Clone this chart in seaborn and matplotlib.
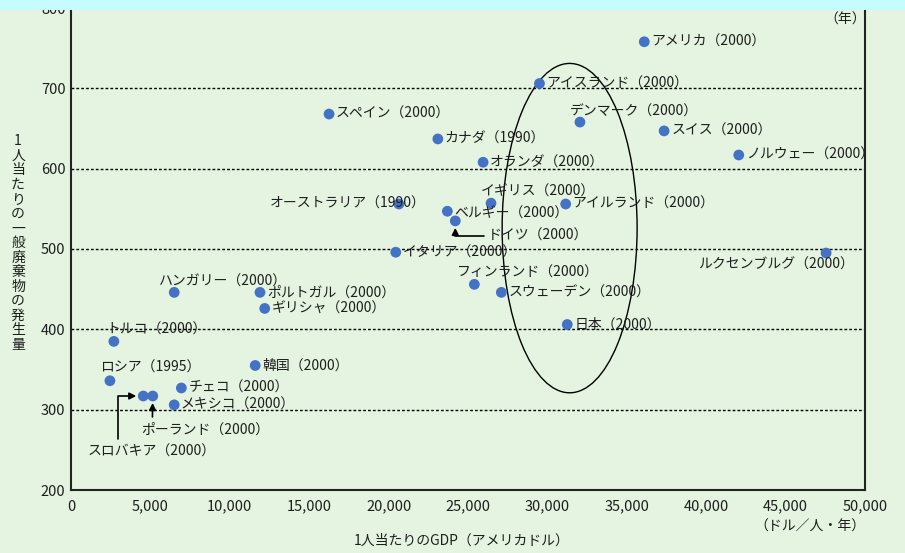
import numpy as np
import pandas as pd
import matplotlib.pyplot as plt
import seaborn as sns
from matplotlib.patches import Ellipse, Rectangle

# data: GDP per capita (USD) vs municipal waste per capita
countries = ['アメリカ', 'アイスランド', 'デンマーク', 'スイス', 'ノルウェー', 'スペイン',
             'カナダ', 'オランダ', 'イギリス', 'アイルランド', 'オーストラリア', 'ベルギー',
             'ドイツ', 'イタリア', 'フィンランド', 'スウェーデン', '日本', 'ルクセンブルグ',
             'ハンガリー', 'ポルトガル', 'ギリシャ', 'トルコ', '韓国', 'ロシア', 'チェコ',
             'メキシコ', 'スロバキア', 'ポーランド']
years = ['2000', '2000', '2000', '2000', '2000', '2000',
         '1990', '2000', '2000', '2000', '1990', '2000',
         '2000', '2000', '2000', '2000', '2000', '2000',
         '2000', '2000', '2000', '2000', '2000', '1995', '2000',
         '2000', '2000', '2000']
gdp = [36100, 29500, 32050, 37350, 42050, 16250,
       23100, 25950, 26450, 31150, 20650, 23700,
       24200, 20450, 25400, 27100, 31250, 47550,
       6500, 11900, 12200, 2700, 11600, 2450, 6950,
       6500, 4550, 5150]
waste = [758, 706, 658, 647, 617, 668,
         637, 608, 557, 556, 556, 547,
         535, 496, 456, 446, 406, 495,
         446, 446, 426, 385, 355, 336, 327,
         306, 317, 317]

# label offsets (pixels, left edge of text relative to the dot)
label_dx = [7, 7, -10, 7, 7, 7,
            7, 7, -10, 7, -129, 7,
            0, 7, -17, 7, 7, -128,
            -15, 7, 7, -7, 7, -10, 7,
            6, 0, 0]
label_dy = [0, 0, -10, 0, 0, 0,
            0, 0, -12, 0, 0, 2,
            0, 0, -12, 0, 0, 12,
            -11, 0, 0, -12, 0, -13, 0,
            0, 0, 0]

# ellipse around the cluster (data units)
ell_center = (31400, 526)
ell_width = 8500
ell_height = 410

df = pd.DataFrame({'country': countries, 'year': years, 'gdp': gdp, 'waste': waste})
df['label'] = df['country'] + '（' + df['year'] + '）'

sns.set_theme(style='white')
plt.rcParams['font.family'] = ['Noto Sans CJK JP', 'DejaVu Sans']

bg = '#e4f4e1'
txt = '#1e1e1e'
fig = plt.figure(figsize=(9.05, 5.53), dpi=100, facecolor=bg)
ax = fig.add_axes([71 / 905, 63 / 553, 794 / 905, 482 / 553])
ax.set_facecolor(bg)

sns.scatterplot(data=df, x='gdp', y='waste', ax=ax, color='#4472c4', s=60,
                edgecolor='none', zorder=3, legend=False)

ax.set_xlim(0, 50000)
ax.set_ylim(200, 800)
ax.set_xticks(np.arange(0, 50001, 5000))
ax.set_yticks(np.arange(200, 801, 100))
ax.set_xticklabels([f'{v:,}' for v in range(0, 50001, 5000)], fontsize=10.5, color=txt)
ax.set_yticklabels([str(v) for v in range(200, 801, 100)], fontsize=10.5, color=txt)
ax.tick_params(axis='x', direction='in', length=6, width=1, color='black', pad=7)
ax.tick_params(axis='y', direction='in', length=0, pad=4)
ax.set_xlabel('')
ax.set_ylabel('')

for v in range(300, 801, 100):
    ax.axhline(v, color='black', lw=1, ls=(0, (2, 1.5)), zorder=1)

for sp in ['left', 'bottom', 'right']:
    ax.spines[sp].set_color('#222222')
    ax.spines[sp].set_linewidth(1.5)
ax.spines['top'].set_visible(False)

px = 0.72  # pixels -> points at dpi 100
skip = {'ドイツ', 'スロバキア', 'ポーランド'}
for i, row in df.iterrows():
    if row['country'] in skip:
        continue
    ax.annotate(row['label'], (row['gdp'], row['waste']),
                xytext=(label_dx[i] * px, -label_dy[i] * px), textcoords='offset points',
                ha='left', va='center', fontsize=10, color=txt, zorder=4)

# arrowed labels
d = df.set_index('country')
ax.annotate('ドイツ（2000）', (d.loc['ドイツ', 'gdp'], d.loc['ドイツ', 'waste']),
            xytext=(33 * px, -15 * px), textcoords='offset points',
            ha='left', va='center', fontsize=10, color=txt,
            arrowprops=dict(arrowstyle='-|>', color='black', lw=1.2,
                            connectionstyle='angle,angleA=0,angleB=90,rad=0',
                            shrinkA=1, shrinkB=5))
ax.annotate('ポーランド（2000）', (d.loc['ポーランド', 'gdp'], d.loc['ポーランド', 'waste']),
            xytext=(-12 * px, -34 * px), textcoords='offset points',
            ha='left', va='center', fontsize=10, color=txt,
            arrowprops=dict(arrowstyle='-|>', color='black', lw=1.2,
                            relpos=(0.09, 1.0), shrinkA=2, shrinkB=5))
ax.annotate('スロバキア（2000）', (d.loc['スロバキア', 'gdp'], d.loc['スロバキア', 'waste']),
            xytext=(-56 * px, -56 * px), textcoords='offset points',
            ha='left', va='center', fontsize=10, color=txt,
            arrowprops=dict(arrowstyle='-|>', color='black', lw=1.2,
                            connectionstyle='angle,angleA=90,angleB=0,rad=0',
                            relpos=(0.24, 1.0), shrinkA=2, shrinkB=5))

ax.add_patch(Ellipse(ell_center, ell_width, ell_height, fill=False,
                     edgecolor='black', lw=1, zorder=2))

# axis titles and units
fig.text(18 / 905, 1 - 243 / 553, '\n'.join('1人当たりの一般廃棄物の発生量'),
         ha='center', va='center', fontsize=10, linespacing=1.05, color=txt)
fig.text(462 / 905, 1 - 541 / 553, '1人当たりのGDP（アメリカドル）',
         ha='center', va='center', fontsize=10, color=txt)
fig.text(810 / 905, 1 - 527 / 553, '（ドル／人・年）',
         ha='center', va='center', fontsize=10, color=txt)
fig.text(845 / 905, 1 - 20 / 553, '（年）',
         ha='center', va='center', fontsize=10, color=txt)

# cyan band at the top
fig.patches.append(Rectangle((0, 1 - 10 / 553), 1, 10 / 553, transform=fig.transFigure,
                             facecolor='#c6fcfc', edgecolor='none', zorder=10))

fig.savefig('out.png', dpi=100, facecolor=bg)
